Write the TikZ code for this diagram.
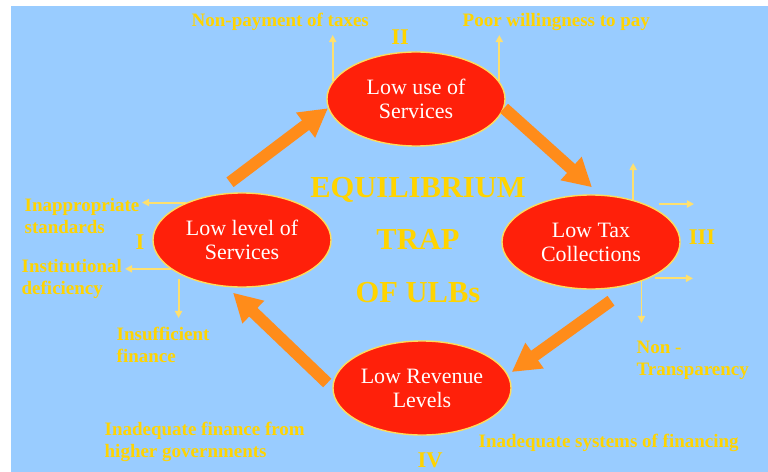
\documentclass[tikz,border=0pt]{standalone}
\usepackage{fontspec}
\setmainfont{Liberation Serif}
\usetikzlibrary{arrows.meta}
\usetikzlibrary{calc}
\usetikzlibrary{shapes.geometric}

\definecolor{skyblue}{RGB}{153,204,255}
\definecolor{trapred}{RGB}{255,32,10}
\definecolor{rimyellow}{RGB}{255,220,90}
\definecolor{arroworange}{RGB}{255,140,26}
\definecolor{textyellow}{RGB}{255,212,0}
\definecolor{stemyellow}{RGB}{255,224,110}

\begin{document}
\begin{tikzpicture}[x=0.025cm, y=-0.025cm,
	stage/.style={ellipse, draw=rimyellow, line width=1pt, fill=trapred, minimum width=4.45cm, minimum height=2.35cm, inner sep=0pt, align=center, text=white, font=\fontsize{15.6}{17}\selectfont},
	cause/.style={anchor=base west, align=left, inner sep=1pt, text=textyellow, font=\bfseries\fontsize{13.5}{15}\selectfont},
	numeral/.style={text=textyellow, inner sep=0pt, font=\bfseries\fontsize{16}{16}\selectfont},
	bigarrow/.style={draw=arroworange, line width=8.5pt, -{Triangle[width=21pt,length=20pt]}},
	smallarrow/.style={draw=stemyellow, line width=1.4pt, -{Triangle[width=5pt,length=5pt]}}]
	
	\useasboundingbox (0, 0) rectangle (768, 472);
	\fill [white] (0, 0) rectangle (768, 472);
	\fill [skyblue] (11, 6) rectangle (768, 472);
	
	% the four stages of the trap
	\node [stage] at (416, 99) (use){Low use of\\Services};
	\node [stage] at (242, 240) (lvl){Low level of\\Services};
	\node [stage] at (591, 242) (tax){Low Tax\\Collections};
	\node [stage] at (422, 388) (rev){Low Revenue\\Levels};
	
	% base of a wrapped node is the baseline of its last line
	\node [anchor=base, align=center, text=textyellow, inner sep=0pt, font=\bfseries\fontsize{21.7}{37.3}\selectfont] at (418, 302) (title){EQUILIBRIUM\\TRAP\\OF ULBs};
	
	\node [numeral] at (400, 37) (num2){II};
	\node [numeral] at (140, 242) (num1){I};
	\node [numeral] at (702, 237) (num3){III};
	\node [numeral] at (430, 460) (num4){IV};
	
	\node [cause] at (190, 27) (nonpay){Non-payment of taxes};
	\node [cause] at (461, 27) (poor){Poor willingness to pay};
	\node [cause] at (23, 233) (inapp){Inappropriate\\standards};
	\node [cause] at (20, 294) (inst){Institutional\\deficiency};
	\node [cause] at (115, 362) (insuff){Insufficient\\finance};
	\node [cause] at (635, 375) (nontr){Non -\\Transparency};
	\node [cause] at (103, 457) (higher){Inadequate finance from\\higher governments};
	\node [cause] at (477, 447) (systems){Inadequate systems of financing};
	
	% ends of the small arrows
	\coordinate (tip_use_l) at (333, 35);
	\coordinate (tip_use_r) at (499, 35);
	\coordinate (tip_lvl_a) at (142, 203);
	\coordinate (tip_lvl_b) at (125, 268);
	\coordinate (tip_lvl_c) at (180, 318);
	\coordinate (tip_tax_a) at (633, 163);
	\coordinate (tip_tax_b) at (694, 204);
	\coordinate (tip_tax_c) at (693, 278);
	\coordinate (tip_tax_d) at (641, 323);
	
	\draw [smallarrow] (use.168) -- (use.168 |- tip_use_l);
	\draw [smallarrow] (use.12) -- (use.12 |- tip_use_r);
	\draw [smallarrow] (lvl.146) -- (lvl.146 -| tip_lvl_a);
	\draw [smallarrow] (lvl.202) -- (lvl.202 -| tip_lvl_b);
	\draw [smallarrow, shorten <=3.5pt] (lvl.208) -- (lvl.208 |- tip_lvl_c);
	\draw [smallarrow] (tax.45) -- (tax.45 |- tip_tax_a);
	\draw [smallarrow, shorten <=10pt] (tax.35) -- (tax.35 -| tip_tax_b);
	\draw [smallarrow, shorten <=4pt] (tax.-32) -- (tax.-32 -| tip_tax_c);
	\draw [smallarrow] (tax.-38) -- (tax.-38 |- tip_tax_d);
	
	% the vicious circle
	\draw [bigarrow] ([shift={(-12,-10)}]lvl.north) -- (use.186);
	\draw [bigarrow] (use.-6) -- ([shift={(1,-7)}]tax.north);
	\draw [bigarrow] ([shift={(20,11)}]tax.south) -- ([shift={(0,-16)}]rev.east);
	\draw [bigarrow] ([shift={(-5,-5)}]rev.west) -- ([shift={(-9,5)}]lvl.south);
	
\end{tikzpicture}
\end{document}
